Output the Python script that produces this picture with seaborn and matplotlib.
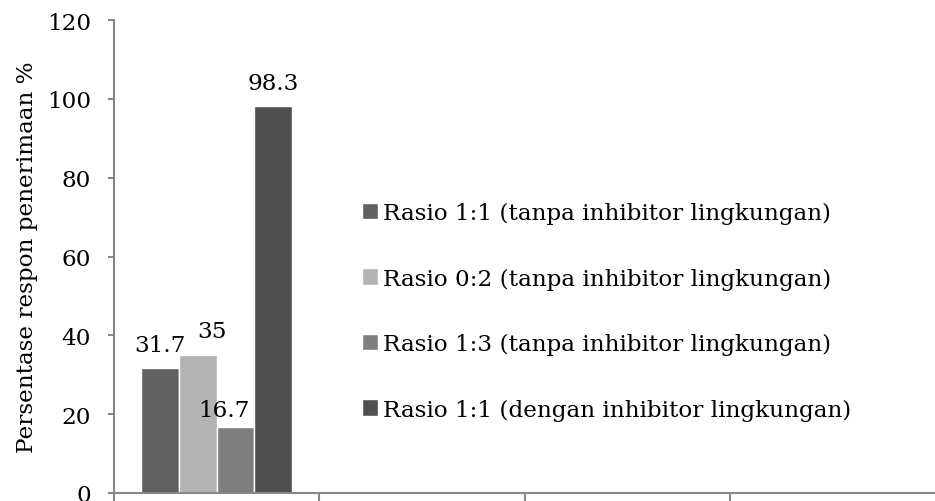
import matplotlib
matplotlib.use("Agg")
import matplotlib.pyplot as plt
import seaborn as sns
import pandas as pd

# ---- data ----
categories = ["K1", "K2", "K3", "K4"]
series = [
    "Rasio 1:1 (tanpa inhibitor lingkungan)",
    "Rasio 0:2 (tanpa inhibitor lingkungan)",
    "Rasio 1:3 (tanpa inhibitor lingkungan)",
    "Rasio 1:1 (dengan inhibitor lingkungan)",
]
values = [31.7, 35, 16.7, 98.3]
value_labels = ["31.7", "35", "16.7", "98.3"]
colors = ["#606060", "#b3b3b3", "#7f7f7f", "#505050"]
ylabel = "Persentase respon penerimaan %"
yticks = [0, 20, 40, 60, 80, 100, 120]

df = pd.DataFrame({"kategori": [categories[0]] * len(series),
                   "seri": series, "nilai": values})

sns.set_style("white")
plt.rcParams["font.family"] = ["DejaVu Serif"]
plt.rcParams["text.color"] = "black"

FS = 16.7

fig = plt.figure(figsize=(9.35, 5.02), dpi=100)
ax = fig.add_axes([114 / 935, 8 / 502, 821 / 935, 473 / 502])

sns.barplot(data=df, x="kategori", y="nilai", hue="seri", order=categories,
            hue_order=series, palette=colors, width=0.735, gap=0,
            saturation=1, ax=ax, legend=True, errorbar=None)

ax.set_xlim(-0.5, 3.5)
ax.set_ylim(0, 120)
ax.set_yticks(yticks)
ax.set_yticklabels([str(t) for t in yticks], fontsize=FS)
ax.set_xticks([-0.5, 0.5, 1.5, 2.5])
ax.set_xticklabels([])
ax.set_xlabel("")
ax.set_ylabel(ylabel, fontsize=FS, color="black")
ax.yaxis.set_label_coords(-0.093, 0.5)

for s in ["top", "right"]:
    ax.spines[s].set_visible(False)
for s in ["left", "bottom"]:
    ax.spines[s].set_color("#888888")
    ax.spines[s].set_linewidth(1.5)
ax.tick_params(axis="both", direction="out", color="#888888", width=1.5,
               length=4.5, labelcolor="black", bottom=True, left=True)
ax.tick_params(axis="y", pad=12)
ax.tick_params(axis="x", length=6)

# value labels with per-label offsets (points)
offsets = [(0, 12), (10, 13), (-8.5, 8), (0, 12)]
bars = [p for p in ax.patches if p.get_height() > 0]
bars = sorted(bars, key=lambda p: p.get_x())
for p, lab, off in zip(bars, value_labels, offsets):
    ax.annotate(lab, xy=(p.get_x() + p.get_width() / 2, p.get_height()),
                xytext=off, textcoords="offset points", ha="center",
                va="baseline", fontsize=FS, color="black")

leg = ax.legend(loc="center left", bbox_to_anchor=(0.302, 0.384),
                frameon=False, fontsize=FS, handlelength=0.7,
                handleheight=0.7, handletextpad=0.22, labelspacing=1.87,
                borderpad=0, borderaxespad=0)
for t in leg.get_texts():
    t.set_color("black")

fig.savefig("out.png", dpi=100)
